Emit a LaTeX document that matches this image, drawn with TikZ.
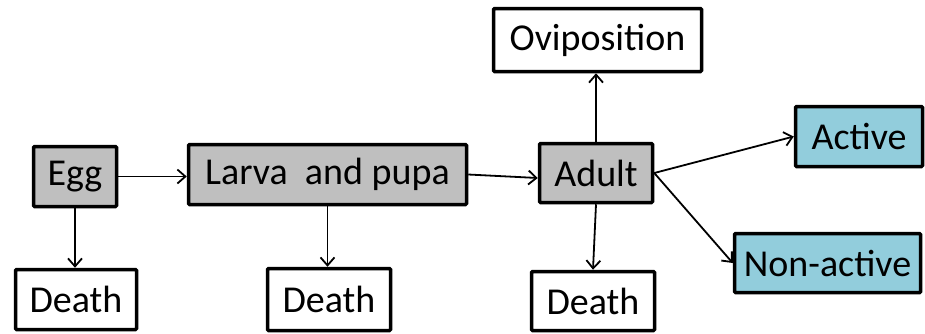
\documentclass[tikz,border=0pt]{standalone}
\usepackage{fontspec}
\setmainfont{Carlito}
\usetikzlibrary{arrows.meta}
\definecolor{stagegray}{RGB}{191,191,191}
\definecolor{stateblue}{RGB}{146,205,220}
\begin{document}
\begin{tikzpicture}[x=1pt,y=-1pt,
  box/.style={draw=black,line width=3.5pt,rounded corners=1pt,inner sep=0pt,
    font=\fontsize{38}{42}\selectfont,anchor=center},
  stage/.style={box,fill=stagegray},
  state/.style={box,fill=stateblue},
  plain/.style={box,fill=white},
  conn/.style={line width=1.8pt,-{Straight Barb[length=8pt,width=14pt,line width=1.8pt]}}]
\useasboundingbox (0,0) rectangle (925,333);
\node[stage,minimum width=83pt,minimum height=60pt] (egg) at (75,176.5) {Egg};
\node[stage,minimum width=278pt,minimum height=60pt] (larva) at (327.5,174.5) {Larva\ \ and pupa};
\node[stage,minimum width=113pt,minimum height=59pt] (adult) at (596,173) {Adult};
\node[plain,minimum width=208pt,minimum height=63pt] (ovi) at (597.5,40) {Oviposition};
\node[state,minimum width=127pt,minimum height=60pt] (active) at (859,136.5) {Active};
\node[state,minimum width=186pt,minimum height=59pt] (nonactive) at (827.5,263) {Non-active};
\node[plain,minimum width=121pt,minimum height=60pt] (death1) at (76,299.5) {Death};
\node[plain,minimum width=123pt,minimum height=62pt] (death2) at (329,299.5) {Death};
\node[plain,minimum width=123pt,minimum height=59pt] (death3) at (593,301) {Death};
\draw[conn] (egg.east) -- (egg.east -| larva.west);
\draw[conn] (larva.east) -- ([yshift=-5pt]adult.west);
\draw[conn] (adult.north) -- (adult.north |- ovi.south);
\draw[conn] (adult.south) -- (death3.north);
\draw[conn] (egg.south) -- (egg.south |- death1.north);
\draw[conn] (larva.south) -- (larva.south |- death2.north);
\draw[conn] (adult.east) -- (active.west);
\draw[conn] (adult.east) -- (nonactive.west);
\end{tikzpicture}
\end{document}
